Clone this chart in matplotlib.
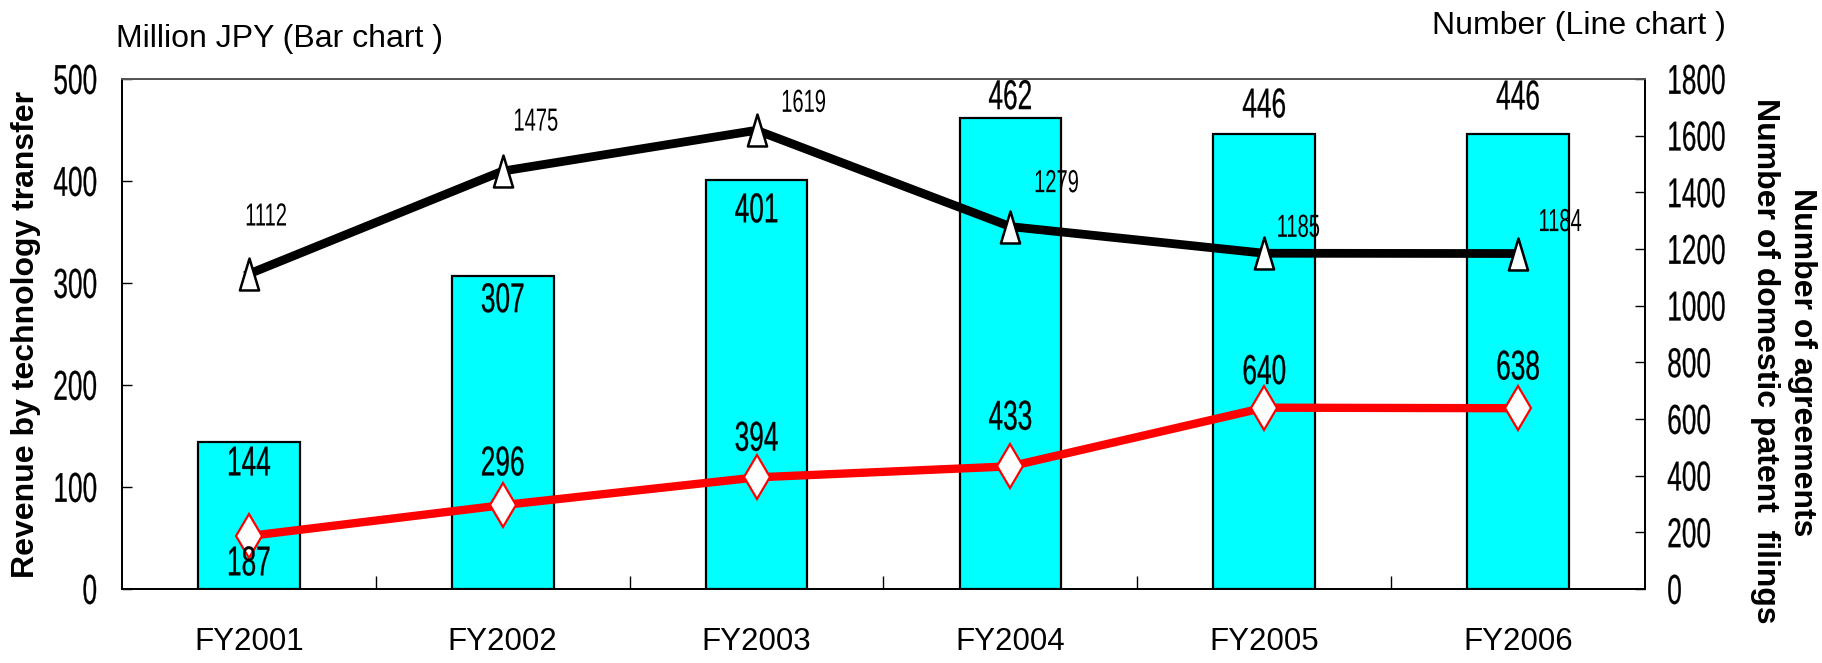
import matplotlib
matplotlib.use("Agg")
import matplotlib.pyplot as plt
import numpy as np
from matplotlib.patheffects import AbstractPathEffect
from matplotlib.transforms import Affine2D
from matplotlib.path import Path

# ---------------- data ----------------
categories = ["FY2001", "FY2002", "FY2003", "FY2004", "FY2005", "FY2006"]
revenue = [144, 307, 401, 462, 446, 446]                # Million JPY (bars)
agreements = [187, 296, 394, 433, 640, 638]             # red line
patent_filings = [1112, 1475, 1619, 1279, 1185, 1184]   # black line
left_ticks = [0, 100, 200, 300, 400, 500]
right_ticks = [0, 200, 400, 600, 800, 1000, 1200, 1400, 1600, 1800]

# ---------------- styling helpers ----------------
DPI = 100
PX = 72.0 / DPI  # points per pixel


class Tall(AbstractPathEffect):
    """Stretch glyphs vertically (narrow / condensed font look)."""
    def __init__(self, sy=1.6, lw=0.0):
        super().__init__()
        self.sy = sy
        self.lw = lw

    def draw_path(self, renderer, gc, tpath, affine, rgbFace=None):
        ext = affine.transform_path(tpath).get_extents()
        cy = 0.5 * (ext.y0 + ext.y1)
        new = affine + Affine2D().translate(0, -cy).scale(1.0, self.sy).translate(0, cy)
        gc0 = renderer.new_gc()
        gc0.copy_properties(gc)
        gc0.set_linewidth(self.lw)
        renderer.draw_path(gc0, tpath, new, rgbFace)
        gc0.restore()


FONT = "Liberation Sans"
plt.rcParams["font.family"] = [FONT, "DejaVu Sans"]

SQ = 0.63                 # condense ratio for the numeric font
NUM_BIG = 30 * SQ         # effective 30pt narrow digits
NUM_SMALL = 23 * SQ       # effective 23pt narrow digits

fig = plt.figure(figsize=(18.22, 6.63), dpi=DPI)
W, H = 1822, 663
L, R, T, B = 122, 1645, 79, 589
ax = fig.add_axes([L / W, 1 - B / H, (R - L) / W, (B - T) / H])
ax2 = ax.twinx()

x = np.arange(len(categories))

# bars
ax.bar(x, revenue, width=0.40, color="#00FFFF", edgecolor="black", linewidth=1.6, zorder=2)
ax.set_xlim(-0.5, len(categories) - 0.5)
ax.set_ylim(0, 500)
ax2.set_ylim(0, 1800)

# custom tall triangle marker
tri = Path([(0, 1), (-0.6, -1), (0.6, -1), (0, 1)],
           [Path.MOVETO, Path.LINETO, Path.LINETO, Path.CLOSEPOLY])

ax2.plot(x, patent_filings, color="black", linewidth=6.3, marker=tri, markersize=23,
         markerfacecolor="white", markeredgecolor="black", markeredgewidth=1.8, zorder=3)
ax2.plot(x, agreements, color="#FF0000", linewidth=6.0, marker="d", markersize=22,
         markerfacecolor="white", markeredgecolor="#FF0000", markeredgewidth=1.6, zorder=3)

# ---------------- axes styling ----------------
for a in (ax, ax2):
    for s in a.spines.values():
        s.set_linewidth(1.3)
        s.set_color("black")
    a.spines["top"].set_color("#555555")

ax.set_yticks(left_ticks)
ax.set_yticklabels([str(v) for v in left_ticks])
ax.tick_params(axis="y", direction="in", length=7, width=1.0, pad=18, labelsize=NUM_BIG)
for t in ax.get_yticklabels():
    t.set_path_effects([Tall(1 / SQ, lw=0.2)])

ax2.set_yticks(right_ticks)
ax2.set_yticklabels([str(v) for v in right_ticks])
ax2.tick_params(axis="y", direction="in", length=7, width=1.0, pad=16, labelsize=NUM_BIG)
for t in ax2.get_yticklabels():
    t.set_path_effects([Tall(1 / SQ, lw=0.2)])

ax.set_xticks(x)
ax.set_xticklabels(categories)
ax.tick_params(axis="x", which="major", length=0, pad=27, labelsize=22.5)
ax.set_xticks(x[:-1] + 0.5, minor=True)
ax.tick_params(axis="x", which="minor", direction="in", length=9.5, width=1.0)
ax2.tick_params(axis="x", which="both", length=0)

# ---------------- value labels ----------------
bar_off_px = [-21, -24, -30, 21, 29, 37]
for i, v in enumerate(revenue):
    ax.annotate(str(v), xy=(x[i], v), xytext=(0, bar_off_px[i] * PX), textcoords="offset points",
                ha="center", va="center", fontsize=NUM_BIG, zorder=4,
                path_effects=[Tall(1 / SQ, lw=0.2)])

red_off_px = [-27, 42, 39, 49, 36, 41]
for i, v in enumerate(agreements):
    ax2.annotate(str(v), xy=(x[i], v), xytext=(0, red_off_px[i] * PX), textcoords="offset points",
                 ha="center", va="center", fontsize=NUM_BIG, zorder=5,
                 path_effects=[Tall(1 / SQ, lw=0.2)])

blk_off_px = [(17, 58), (33, 50), (47, 28), (46, 44), (34, 26), (42, 32)]
for i, v in enumerate(patent_filings):
    dx, dy = blk_off_px[i]
    ax2.annotate(str(v), xy=(x[i], v), xytext=(dx * PX, dy * PX), textcoords="offset points",
                 ha="center", va="center", fontsize=NUM_SMALL, zorder=5,
                 path_effects=[Tall(1 / SQ, lw=0.0)])

# ---------------- axis titles ----------------
fig.text(116 / W, 1 - 47 / H, "Million JPY (Bar chart )", fontsize=23, ha="left", va="baseline")
fig.text(1726 / W, 1 - 34 / H, "Number (Line chart )", fontsize=23, ha="right", va="baseline")

fig.text(26 / W, 1 - 335 / H, "Revenue by technology transfer", fontsize=23, fontweight="bold",
         rotation=90, ha="center", va="center")
fig.text(1765 / W, 1 - 361 / H, "Number of domestic patent  filings", fontsize=23, fontweight="bold",
         rotation=270, ha="center", va="center")
fig.text(1802 / W, 1 - 362 / H, "Number of agreements", fontsize=23, fontweight="bold",
         rotation=270, ha="center", va="center")

fig.savefig("out.png", dpi=DPI)
